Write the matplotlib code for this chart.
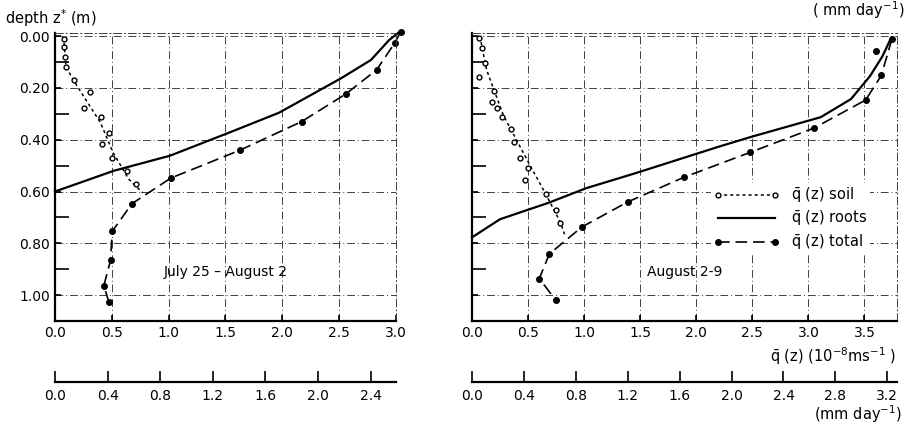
import matplotlib
matplotlib.use("Agg")
import matplotlib.pyplot as plt
from matplotlib.lines import Line2D
from matplotlib.ticker import FormatStrFormatter, MultipleLocator

plt.rcParams['font.family'] = ['DejaVu Sans']
plt.rcParams['font.size'] = 10

# ---- July 25 - August 2 (left) ----
soil_l_q = [0.076, 0.082, 0.088, 0.099, 0.163, 0.306, 0.256, 0.402, 0.476, 0.416, 0.503, 0.633, 0.715]
soil_l_z = [0.013, 0.041, 0.079, 0.118, 0.169, 0.217, 0.277, 0.311, 0.373, 0.415, 0.472, 0.520, 0.572]
soil_l_line_q = [0.076, 0.096, 0.169, 0.27, 0.40, 0.51, 0.648, 0.772]
soil_l_line_z = [0.003, 0.118, 0.175, 0.245, 0.334, 0.449, 0.552, 0.605]
total_l_q = [3.04, 2.99, 2.83, 2.56, 2.17, 1.63, 1.02, 0.677, 0.503, 0.489, 0.43, 0.474]
total_l_z = [-0.016, 0.026, 0.13, 0.223, 0.33, 0.44, 0.548, 0.647, 0.754, 0.865, 0.963, 1.027]
roots_l_q = [0.0, 0.517, 1.01, 1.53, 1.97, 2.52, 2.78, 2.94, 3.03]
roots_l_z = [0.60, 0.52, 0.462, 0.373, 0.296, 0.162, 0.092, 0.015, -0.016]

# ---- August 2-9 (right) ----
soil_r_q = [0.066, 0.087, 0.117, 0.058, 0.196, 0.175, 0.22, 0.264, 0.352, 0.373, 0.432, 0.50, 0.47, 0.657, 0.75, 0.786]
soil_r_z = [0.008, 0.046, 0.103, 0.156, 0.211, 0.256, 0.279, 0.313, 0.36, 0.408, 0.469, 0.508, 0.557, 0.608, 0.673, 0.72]
soil_r_line_q = [0.07, 0.13, 0.28, 0.515, 0.66, 0.79, 0.825]
soil_r_line_z = [0.0, 0.13, 0.306, 0.497, 0.612, 0.72, 0.765]
total_r_q = [3.745, 3.65, 3.51, 3.05, 2.48, 1.89, 1.39, 0.98, 0.69, 0.60, 0.745]
total_r_z = [0.011, 0.152, 0.247, 0.355, 0.449, 0.545, 0.64, 0.737, 0.841, 0.936, 1.019]
extra_r_q = [3.60]
extra_r_z = [0.058]
roots_r_q = [0.0, 0.25, 0.68, 1.02, 1.46, 2.20, 2.49, 3.11, 3.38, 3.55, 3.66, 3.73]
roots_r_z = [0.777, 0.707, 0.644, 0.587, 0.529, 0.427, 0.389, 0.313, 0.243, 0.154, 0.078, 0.014]

MMDAY = 0.864  # 1e-8 m/s -> mm/day

fig = plt.figure(figsize=(9.06, 4.24), dpi=100)
ax1 = fig.add_axes([55/906, 103/424, 341/906, 288/424])
ax2 = fig.add_axes([472/906, 103/424, 425/906, 288/424])

grid_ls = (0, (8, 3, 1, 3))
dash = (0, (7, 3.5))


def draw(ax, sq, sz, slq, slz, tq, tz, rq, rz, xmax, ticks_mm, label):
    ax.plot(slq, slz, color='k', lw=1.1, ls=(0, (2, 2)), clip_on=False)
    ax.plot(sq, sz, 'o', ms=3.5, mfc='white', mec='k', mew=1.0, clip_on=False)
    ax.plot(tq, tz, color='k', lw=1.2, ls=dash, marker='o', ms=4, clip_on=False)
    ax.plot(rq, rz, color='k', lw=1.6, clip_on=False)
    ax.set_xlim(0, xmax)
    ax.set_ylim(1.10, -0.012)
    ax.xaxis.set_major_locator(MultipleLocator(0.5))
    ax.xaxis.set_major_formatter(FormatStrFormatter('%.1f'))
    ax.yaxis.set_major_locator(MultipleLocator(0.2))
    ax.yaxis.set_minor_locator(MultipleLocator(0.1))
    ax.yaxis.set_major_formatter(FormatStrFormatter('%.2f'))
    ax.tick_params(which='major', direction='in', length=4, width=1.2, labelsize=10)
    ax.tick_params(axis='y', which='minor', direction='in', length=10, width=1.2)
    ax.grid(True, color='0.25', lw=0.7, ls=grid_ls)
    for s in ['left', 'bottom']:
        ax.spines[s].set_linewidth(1.6)
    for s in ['top', 'right']:
        ax.spines[s].set_linestyle(grid_ls)
        ax.spines[s].set_linewidth(0.7)
        ax.spines[s].set_color('0.25')
    ax.text(0.5, 0.17, label, transform=ax.transAxes, ha='center', va='center', fontsize=10)

    sec = ax.secondary_xaxis(-0.212, functions=(lambda x: x * MMDAY, lambda x: x / MMDAY))
    sec.set_xticks(ticks_mm)
    sec.xaxis.set_major_formatter(FormatStrFormatter('%.1f'))
    sec.spines['bottom'].set_linewidth(1.6)
    sec.tick_params(direction='in', length=8, width=1.2, labelsize=10, pad=5)


draw(ax1, soil_l_q, soil_l_z, soil_l_line_q, soil_l_line_z, total_l_q, total_l_z,
     roots_l_q, roots_l_z, 3.0, [0.0, 0.4, 0.8, 1.2, 1.6, 2.0, 2.4], 'July 25 – August 2')
draw(ax2, soil_r_q, soil_r_z, soil_r_line_q, soil_r_line_z, total_r_q, total_r_z,
     roots_r_q, roots_r_z, 3.79, [0.0, 0.4, 0.8, 1.2, 1.6, 2.0, 2.4, 2.8, 3.2], 'August 2-9')
ax2.plot(extra_r_q, extra_r_z, 'o', color='k', ms=4)
ax2.tick_params(axis='y', labelleft=False)

handles = [
    Line2D([], [], color='k', lw=1.1, ls=(0, (2, 2)), marker='o', ms=3.5, mfc='white', mec='k'),
    Line2D([], [], color='k', lw=1.6),
    Line2D([], [], color='k', lw=1.2, ls=dash, marker='o', ms=4),
]
labels = [r'$\bar{\mathrm{q}}$ (z) soil', r'$\bar{\mathrm{q}}$ (z) roots', r'$\bar{\mathrm{q}}$ (z) total']
leg = ax2.legend(handles, labels, loc='upper left', bbox_to_anchor=(0.545, 0.505),
                 numpoints=2, handlelength=4.5, handletextpad=0.8, labelspacing=0.3,
                 frameon=True, facecolor='white', edgecolor='none', framealpha=1,
                 borderpad=0.2, fontsize=10.5)

fig.text(5/906, 1 - 18/424, r'depth z$^{*}$ (m)', ha='left', va='center', fontsize=10.5)
fig.text(904/906, 1 - 10/424, r'( mm day$^{-1}$)', ha='right', va='center', fontsize=10.5)
fig.text(896/906, 1 - 356/424, r'$\bar{\mathrm{q}}$ (z) (10$^{-8}$ms$^{-1}$ )', ha='right', va='center', fontsize=10.5)
fig.text(902/906, 1 - 414/424, r'(mm day$^{-1}$)', ha='right', va='center', fontsize=10.5)

fig.savefig('out.png', dpi=100)
